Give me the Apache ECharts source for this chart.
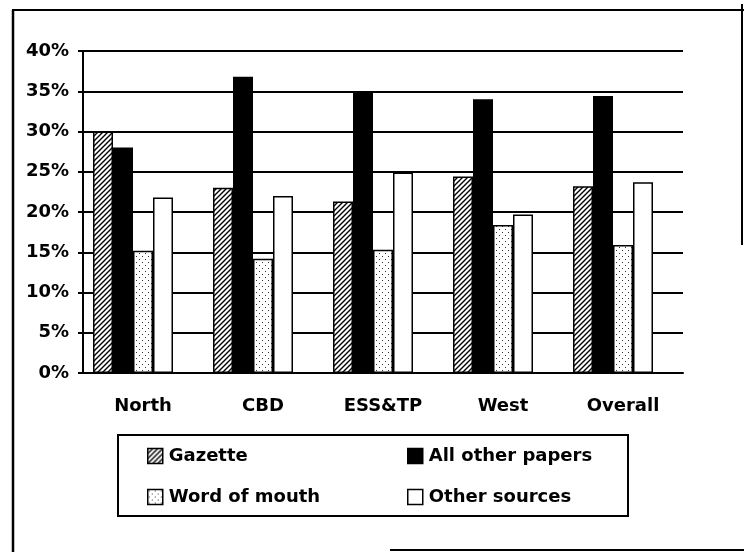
<!DOCTYPE html>
<html>
<head>
<meta charset="utf-8">
<script src="https://cdn.jsdelivr.net/npm/echarts@6/dist/echarts.min.js"></script>
<style>html,body{margin:0;padding:0;background:#fff;}#c{width:744px;height:552px;}</style>
</head>
<body>
<div id="c"></div>
<script>
var categories = ['North', 'CBD', 'ESS&TP', 'West', 'Overall'];
var gazette = [30.0, 23.0, 21.3, 24.4, 23.2];
var allOtherPapers = [28.0, 36.8, 34.9, 34.0, 34.4];
var wordOfMouth = [15.2, 14.2, 15.3, 18.4, 15.9];
var otherSources = [21.8, 22.0, 24.9, 19.7, 23.7];
var yTicks = [0, 5, 10, 15, 20, 25, 30, 35, 40];

function hatch() {
  var c = document.createElement('canvas');
  c.width = 5; c.height = 5;
  var g = c.getContext('2d');
  g.fillStyle = '#fff'; g.fillRect(0, 0, 5, 5);
  g.strokeStyle = '#000'; g.lineWidth = 1.4;
  g.beginPath();
  g.moveTo(-1, 6); g.lineTo(6, -1);
  g.moveTo(-1, 1); g.lineTo(1, -1);
  g.moveTo(4, 6); g.lineTo(6, 4);
  g.stroke();
  return c;
}
function dots() {
  var c = document.createElement('canvas');
  c.width = 6; c.height = 6;
  var g = c.getContext('2d');
  g.fillStyle = '#fff'; g.fillRect(0, 0, 6, 6);
  g.fillStyle = '#333';
  g.fillRect(1, 1, 1, 1);
  g.fillRect(4, 4, 1, 1);
  return c;
}

var FONT = 'DejaVu Sans';
var chart = echarts.init(document.getElementById('c'), null, {renderer: 'canvas'});
var border = {borderColor: '#000', borderWidth: 1.5};
var legendText = {color: '#000', fontFamily: FONT, fontWeight: 'bold', fontSize: 18, padding: [0, 0, 0, 1]};
chart.setOption({
  animation: false,
  backgroundColor: '#fff',
  grid: {left: 83, right: 61, top: 51, bottom: 179},
  xAxis: {
    type: 'category',
    data: categories,
    axisLine: {show: true, lineStyle: {color: '#000', width: 2}},
    axisTick: {show: false},
    axisLabel: {color: '#000', fontFamily: FONT, fontWeight: 'bold', fontSize: 18, margin: 24}
  },
  yAxis: {
    type: 'value',
    min: yTicks[0], max: yTicks[yTicks.length - 1], interval: 5,
    axisLine: {show: true, lineStyle: {color: '#000', width: 2}},
    axisTick: {show: true, inside: false, length: 5, lineStyle: {color: '#000', width: 2}},
    axisLabel: {formatter: '{value}%', color: '#000', fontFamily: FONT, fontWeight: 'bold', fontSize: 18, margin: 14},
    splitLine: {show: true, lineStyle: {color: '#000', width: 2}}
  },
  legend: [
    {
      data: ['Gazette', 'Word of mouth'],
      orient: 'vertical', left: 142, top: 442,
      itemWidth: 15, itemHeight: 15, itemGap: 23,
      icon: 'rect',
      itemStyle: {borderColor: '#000', borderWidth: 1.5},
      textStyle: legendText
    },
    {
      data: ['All other papers', 'Other sources'],
      orient: 'vertical', left: 402, top: 442,
      itemWidth: 15, itemHeight: 15, itemGap: 23,
      icon: 'rect',
      itemStyle: {borderColor: '#000', borderWidth: 1.5},
      textStyle: legendText
    }
  ],
  series: [
    {name: 'Gazette', type: 'bar', data: gazette, barWidth: 20, barGap: '0%',
     itemStyle: Object.assign({color: {image: hatch(), repeat: 'repeat'}}, border)},
    {name: 'All other papers', type: 'bar', data: allOtherPapers, barWidth: 20, barGap: '0%',
     itemStyle: Object.assign({color: '#000'}, border)},
    {name: 'Word of mouth', type: 'bar', data: wordOfMouth, barWidth: 20, barGap: '0%',
     itemStyle: Object.assign({color: {image: dots(), repeat: 'repeat'}}, border)},
    {name: 'Other sources', type: 'bar', data: otherSources, barWidth: 20, barGap: '0%',
     itemStyle: Object.assign({color: '#fff'}, border)},
    {name: 'spacer', type: 'bar', data: [], barWidth: 20, barGap: '0%', silent: true}
  ],
  graphic: [
    {type: 'line', shape: {x1: 13, y1: 10, x2: 13, y2: 552}, style: {stroke: '#000', lineWidth: 2.5}},
    {type: 'line', shape: {x1: 12, y1: 10, x2: 744, y2: 10}, style: {stroke: '#000', lineWidth: 2}},
    {type: 'line', shape: {x1: 742, y1: 4, x2: 742, y2: 245}, style: {stroke: '#000', lineWidth: 2}},
    {type: 'line', shape: {x1: 390, y1: 550, x2: 744, y2: 550}, style: {stroke: '#000', lineWidth: 2}},
    {type: 'rect', shape: {x: 118, y: 435, width: 510, height: 81}, style: {fill: 'none', stroke: '#000', lineWidth: 2}}
  ]
});
</script>
</body>
</html>
